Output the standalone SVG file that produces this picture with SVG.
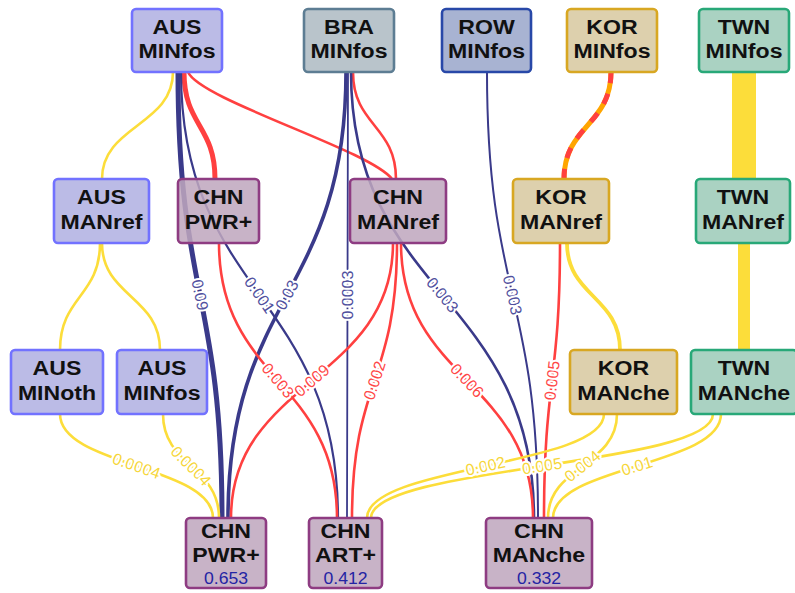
<svg xmlns="http://www.w3.org/2000/svg" xmlns:xlink="http://www.w3.org/1999/xlink" width="795" height="593" viewBox="0 0 795 593">
<style>
.nt{font-family:"Liberation Sans",Arial,sans-serif;font-weight:bold;font-size:21px;fill:#111;text-anchor:middle}
.nv{font-family:"Liberation Sans",Arial,sans-serif;font-size:16px;fill:#2424a4;text-anchor:middle}
.e{fill:none;stroke-linecap:butt}
.y{stroke:#fcdd3a;stroke-width:2.6}
.n{stroke:#3a3a8a;stroke-width:2.2}
.r{stroke:#ff4040;stroke-width:2.6}
.lb{font-family:"Liberation Sans",Arial,sans-serif;font-size:16px;stroke:#fff;stroke-width:4;stroke-linejoin:round;paint-order:stroke;text-anchor:middle}
.ly{fill:#f6d63a}.ln{fill:#50509e}.lr{fill:#ff4646}
.nd rect{stroke-width:2.6;fill-opacity:0.86}
.aus rect{fill:#b0b0e2;stroke:#7272ff}
.bra rect{fill:#adbac2;stroke:#5d7d93}
.row rect{fill:#9aa6cb;stroke:#2848a8}
.kor rect{fill:#d7c89f;stroke:#d8a722}
.twn rect{fill:#9ccbb8;stroke:#28a878}
.chn rect{fill:#bfa7be;stroke:#8e3c82}
</style>
<g id="connectors">
<path id="e1" class="e y" d="M173 72 C173 125.5 102 125.5 102 179"/>
<path id="e4" class="e r" style="stroke-width:5" d="M184 72 C184 125.5 215 125.5 215 179"/>
<path id="e5" class="e r" d="M188 72 C200 100 370 150 392 179"/>
<path id="e9" class="e r" d="M353 72 C353 125.5 396 125.5 396 179"/>
<path id="e11a" class="e" style="stroke:#ffa500;stroke-width:5" d="M611 72 C611 125.5 564 125.5 564 179"/>
<path id="e11b" class="e" style="stroke:#ff4040;stroke-width:5;stroke-dasharray:11 11" d="M611 72 C611 125.5 564 125.5 564 179"/>
<path id="e12" class="e y" style="stroke-width:24" d="M744 72 L744 179"/>
<path id="e13" class="e y" d="M100 243 C100 296.5 60 296.5 60 350"/>
<path id="e14" class="e y" d="M102 243 C102 296.5 160 296.5 160 350"/>
<path id="e19" class="e y" style="stroke-width:3.8" d="M567 243 C567 296.5 620 296.5 620 350"/>
<path id="e21" class="e y" style="stroke-width:12" d="M744 243 L744 350"/>
<path id="e2" class="e n" style="stroke-width:5" d="M178 72 C178 295 222 295 222 518"/>
<path id="e3" class="e n" style="stroke-width:2.2" d="M181 72 C181 295 338 295 338 518"/>
<path id="e6" class="e n" style="stroke-width:3.6" d="M228 518 C228 295 346 295 346 72"/>
<path id="e7" class="e n" style="stroke-width:1.8" d="M347 518 C347 295 348 295 348 72"/>
<path id="e8" class="e n" style="stroke-width:2.6" d="M351 72 C351 295 534 295 534 518"/>
<path id="e10" class="e n" style="stroke-width:2" d="M487 72 C487 295 538 295 538 518"/>
<path id="e15" class="e r" d="M219 243 C219 380.5 337 380.5 337 518"/>
<path id="e16" class="e r" d="M231 518 C231 380.5 393 380.5 393 243"/>
<path id="e17" class="e r" d="M352 518 C352 380.5 397 380.5 397 243"/>
<path id="e18" class="e r" d="M401 243 C401 380.5 533 380.5 533 518"/>
<path id="e20" class="e r" d="M544 518 C544 380.5 560 380.5 560 243"/>
<path id="e22" class="e y" d="M60 414 C60 466 213 466 213 518"/>
<path id="e23" class="e y" d="M163 414 C163 466 219 466 219 518"/>
<path id="e24" class="e y" d="M367 518 C367 466 604 466 604 414"/>
<path id="e25" class="e y" d="M548 518 C548 466 617 466 617 414"/>
<path id="e26" class="e y" d="M371 518 C371 466 713 466 713 414"/>
<path id="e27" class="e y" d="M553 518 C553 466 721 466 721 414"/>
<text class="lb ln" dy="5.5"><textPath xlink:href="#e2" href="#e2" startOffset="50%">0.09</textPath></text>
<text class="lb ln" dy="5.5"><textPath xlink:href="#e3" href="#e3" startOffset="50%">0.001</textPath></text>
<text class="lb ln" dy="5.5"><textPath xlink:href="#e6" href="#e6" startOffset="50%">0.03</textPath></text>
<text class="lb ln" dy="5.5"><textPath xlink:href="#e7" href="#e7" startOffset="50%">0.0003</textPath></text>
<text class="lb ln" dy="5.5"><textPath xlink:href="#e8" href="#e8" startOffset="50%">0.003</textPath></text>
<text class="lb ln" dy="5.5"><textPath xlink:href="#e10" href="#e10" startOffset="50%">0.003</textPath></text>
<text class="lb lr" dy="5.5"><textPath xlink:href="#e15" href="#e15" startOffset="50%">0.003</textPath></text>
<text class="lb lr" dy="5.5"><textPath xlink:href="#e16" href="#e16" startOffset="50%">0.009</textPath></text>
<text class="lb lr" dy="5.5"><textPath xlink:href="#e17" href="#e17" startOffset="50%">0.002</textPath></text>
<text class="lb lr" dy="5.5"><textPath xlink:href="#e18" href="#e18" startOffset="50%">0.006</textPath></text>
<text class="lb lr" dy="5.5"><textPath xlink:href="#e20" href="#e20" startOffset="50%">0.005</textPath></text>
<text class="lb ly" dy="5.5"><textPath xlink:href="#e22" href="#e22" startOffset="50%">0.0004</textPath></text>
<text class="lb ly" dy="5.5"><textPath xlink:href="#e23" href="#e23" startOffset="50%">0.0004</textPath></text>
<text class="lb ly" dy="5.5"><textPath xlink:href="#e24" href="#e24" startOffset="50%">0.002</textPath></text>
<text class="lb ly" dy="5.5"><textPath xlink:href="#e25" href="#e25" startOffset="50%">0.004</textPath></text>
<text class="lb ly" dy="5.5"><textPath xlink:href="#e26" href="#e26" startOffset="50%">0.005</textPath></text>
<text class="lb ly" dy="5.5"><textPath xlink:href="#e27" href="#e27" startOffset="50%">0.01</textPath></text>
</g>
<g id="aus-minfos" class="nd aus"><rect x="132" y="9" width="90" height="63" rx="4"/><g transform="translate(177 0) scale(1.1 1)"><text class="nt" y="34">AUS</text><text class="nt" y="58">MINfos</text></g></g>
<g id="bra-minfos" class="nd bra"><rect x="304" y="9" width="90" height="63" rx="4"/><g transform="translate(349 0) scale(1.1 1)"><text class="nt" y="34">BRA</text><text class="nt" y="58">MINfos</text></g></g>
<g id="row-minfos" class="nd row"><rect x="442" y="9" width="89" height="63" rx="4"/><g transform="translate(486.5 0) scale(1.1 1)"><text class="nt" y="34">ROW</text><text class="nt" y="58">MINfos</text></g></g>
<g id="kor-minfos" class="nd kor"><rect x="567" y="9" width="90" height="63" rx="4"/><g transform="translate(612 0) scale(1.1 1)"><text class="nt" y="34">KOR</text><text class="nt" y="58">MINfos</text></g></g>
<g id="twn-minfos" class="nd twn"><rect x="699" y="9" width="90" height="63" rx="4"/><g transform="translate(744 0) scale(1.1 1)"><text class="nt" y="34">TWN</text><text class="nt" y="58">MINfos</text></g></g>
<g id="aus-manref" class="nd aus"><rect x="54" y="179" width="95" height="64" rx="4"/><g transform="translate(101.5 0) scale(1.1 1)"><text class="nt" y="204">AUS</text><text class="nt" y="229">MANref</text></g></g>
<g id="chn-pwr-mid" class="nd chn"><rect x="178" y="179" width="81" height="64" rx="4"/><g transform="translate(218.5 0) scale(1.1 1)"><text class="nt" y="204">CHN</text><text class="nt" y="229">PWR+</text></g></g>
<g id="chn-manref" class="nd chn"><rect x="350" y="179" width="96" height="64" rx="4"/><g transform="translate(398 0) scale(1.1 1)"><text class="nt" y="204">CHN</text><text class="nt" y="229">MANref</text></g></g>
<g id="kor-manref" class="nd kor"><rect x="513" y="179" width="96" height="64" rx="4"/><g transform="translate(561 0) scale(1.1 1)"><text class="nt" y="204">KOR</text><text class="nt" y="229">MANref</text></g></g>
<g id="twn-manref" class="nd twn"><rect x="696" y="179" width="94" height="64" rx="4"/><g transform="translate(743 0) scale(1.1 1)"><text class="nt" y="204">TWN</text><text class="nt" y="229">MANref</text></g></g>
<g id="aus-minoth" class="nd aus"><rect x="11" y="350" width="92" height="64" rx="4"/><g transform="translate(57 0) scale(1.1 1)"><text class="nt" y="375">AUS</text><text class="nt" y="400">MINoth</text></g></g>
<g id="aus-minfos-2" class="nd aus"><rect x="117" y="350" width="90" height="64" rx="4"/><g transform="translate(162 0) scale(1.1 1)"><text class="nt" y="375">AUS</text><text class="nt" y="400">MINfos</text></g></g>
<g id="kor-manche" class="nd kor"><rect x="570" y="350" width="107" height="64" rx="4"/><g transform="translate(623.5 0) scale(1.1 1)"><text class="nt" y="375">KOR</text><text class="nt" y="400">MANche</text></g></g>
<g id="twn-manche" class="nd twn"><rect x="691" y="350" width="106" height="64" rx="4"/><g transform="translate(744 0) scale(1.1 1)"><text class="nt" y="375">TWN</text><text class="nt" y="400">MANche</text></g></g>
<g id="chn-pwr" class="nd chn"><rect x="186" y="518" width="80" height="70" rx="4"/><g transform="translate(226 0) scale(1.1 1)"><text class="nt" y="538">CHN</text><text class="nt" y="562">PWR+</text><text class="nv" y="584">0.653</text></g></g>
<g id="chn-art" class="nd chn"><rect x="309" y="518" width="73" height="70" rx="4"/><g transform="translate(345.5 0) scale(1.1 1)"><text class="nt" y="538">CHN</text><text class="nt" y="562">ART+</text><text class="nv" y="584">0.412</text></g></g>
<g id="chn-manche" class="nd chn"><rect x="486" y="518" width="106" height="70" rx="4"/><g transform="translate(539 0) scale(1.1 1)"><text class="nt" y="538">CHN</text><text class="nt" y="562">MANche</text><text class="nv" y="584">0.332</text></g></g>
</svg>
